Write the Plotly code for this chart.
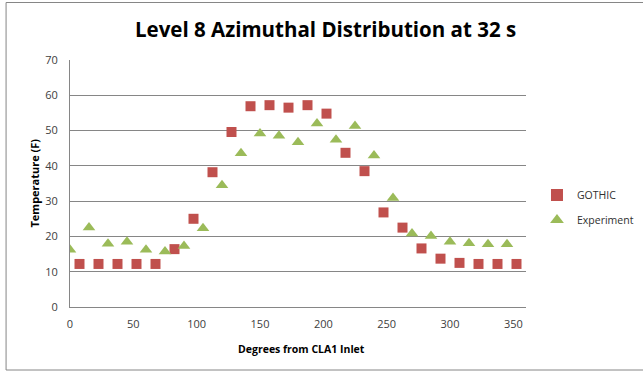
import plotly.graph_objects as go

gothic_x = [7.5, 22.5, 37.5, 52.5, 67.5, 82.5, 97.5, 112.5, 127.5, 142.5, 157.5, 172.5,
            187.5, 202.5, 217.5, 232.5, 247.5, 262.5, 277.5, 292.5, 307.5, 322.5, 337.5, 352.5]
gothic_y = [12.2, 12.2, 12.2, 12.2, 12.2, 16.4, 25.0, 38.2, 49.6, 56.9, 57.2, 56.5,
            57.2, 54.8, 43.7, 38.5, 26.8, 22.5, 16.6, 13.7, 12.5, 12.2, 12.2, 12.2]
exp_x = [0, 15, 30, 45, 60, 75, 90, 105, 120, 135, 150, 165,
         180, 195, 210, 225, 240, 255, 270, 285, 300, 315, 330, 345]
exp_y = [16.2, 22.5, 17.9, 18.5, 16.2, 15.7, 17.3, 22.3, 34.5, 43.6, 49.2, 48.5,
         46.7, 52.0, 47.4, 51.3, 42.9, 30.9, 20.8, 20.1, 18.5, 18.1, 17.8, 17.8]

x_ticks = [0, 50, 100, 150, 200, 250, 300, 350]
y_ticks = [0, 10, 20, 30, 40, 50, 60, 70]

L, R, T, B = 69.5, 117, 60, 67
W, H = 643, 374
pw, ph = W - L - R, H - T - B

def px(x):
    return (x - L) / pw

def py(y):
    return (H - B - y) / ph

font = "'Open Sans', Lato, sans-serif"

fig = go.Figure()
fig.add_trace(go.Scatter(x=gothic_x, y=gothic_y, mode="markers", name="GOTHIC",
                         legend="legend",
                         marker=dict(symbol="square", size=10, color="#C0504D")))
fig.add_trace(go.Scatter(x=exp_x, y=exp_y, mode="markers", name="Experiment",
                         legend="legend2",
                         marker=dict(symbol="triangle-up", size=11, color="#9BBB59")))

leg_common = dict(xanchor="left", yanchor="middle", font=dict(size=10.5, color="#303030", family=font),
                  itemsizing="constant", bgcolor="rgba(0,0,0,0)", borderwidth=0)

fig.update_layout(
    width=W, height=H,
    margin=dict(l=L, r=R, t=T, b=B, autoexpand=False),
    paper_bgcolor="white", plot_bgcolor="white",
    font=dict(family=font, size=11, color="#404040"),
    showlegend=True,
    legend=dict(x=px(537), y=py(195), **leg_common),
    legend2=dict(x=px(537), y=py(220), **leg_common),
    xaxis=dict(range=[0, 360], tickvals=x_ticks, showgrid=False, zeroline=False,
               showline=True, linecolor="#868686", linewidth=1, ticks="",
               ticklabelstandoff=7, tickfont=dict(size=11, color="#404040")),
    yaxis=dict(range=[0, 70], tickvals=y_ticks, showgrid=True, gridcolor="#868686",
               gridwidth=1, zeroline=False, showline=True, linecolor="#868686",
               linewidth=1, ticks="", ticklabelstandoff=9,
               tickfont=dict(size=11, color="#404040")),
    annotations=[
        dict(text="<b>Level 8 Azimuthal Distribution at 32 s</b>", x=px(325), y=py(29),
             xref="paper", yref="paper", showarrow=False, xanchor="center", yanchor="middle",
             font=dict(size=20.5, color="black", family=font)),
        dict(text="<b>Temperature (F)</b>", x=px(33), y=py(183), xref="paper", yref="paper",
             showarrow=False, textangle=-90, xanchor="center", yanchor="middle",
             font=dict(size=11, color="black", family=font)),
        dict(text="<b>Degrees from CLA1 Inlet</b>", x=px(301), y=py(349), xref="paper",
             yref="paper", showarrow=False, xanchor="center", yanchor="middle",
             font=dict(size=10.5, color="black", family=font)),
    ],
    shapes=[dict(type="rect", xref="paper", yref="paper", x0=px(5.5), x1=px(660),
                 y0=py(370), y1=py(2.5), line=dict(color="#868686", width=1),
                 layer="below")],
)

fig.write_html("out.html")
